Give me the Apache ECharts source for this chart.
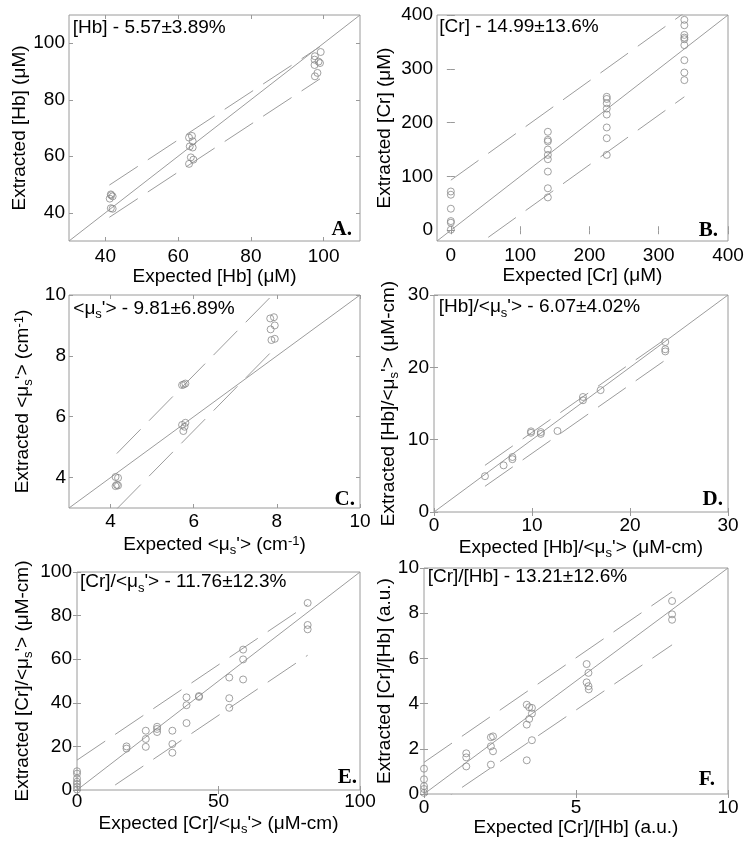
<!DOCTYPE html>
<html><head><meta charset="utf-8">
<script src="https://cdn.jsdelivr.net/npm/echarts@6/dist/echarts.min.js"></script>
<style>html,body{margin:0;padding:0;background:#fff}#c{width:752px;height:849px}</style>
</head><body><div id="c"></div>
<script>
// ---------- Panel A: [Hb] ----------
const hbRange = [30, 110];
const hbTicks = [40, 60, 80, 100];
const hbExpected  = [41.5, 42.0, 41.2, 41.5, 42.0, 41.6, 63.0, 63.8, 64.0, 63.2, 64.0, 63.5, 64.2, 63.0, 97.6, 99.2, 97.5, 98.6, 97.5, 99.0, 98.3, 97.6];
const hbExtracted = [46.5, 45.8, 45.0, 41.6, 41.4, 46.2, 66.6, 67.2, 65.3, 63.5, 63.1, 59.6, 58.8, 57.3, 95.4, 96.9, 94.2, 93.5, 92.3, 93.0, 89.5, 88.3];
const hbBoundX = [41.1, 99.0];
const hbUpper  = [49.8, 98.8];
const hbLower  = [38.4, 87.4];

// ---------- Panel B: [Cr] ----------
const crRange = [-20, 400];
const crTicks = [0, 100, 200, 300, 400];
const crExpected  = [0, 0, 0, 0, 0, 0, 140, 140, 140, 140, 140, 140, 140, 140, 140, 225, 225, 225, 225, 225, 225, 225, 225, 337, 337, 337, 337, 337, 337, 337, 337, 337];
const crExtracted = [72, 66, 40, 17, 14, 1, 183, 168, 165, 150, 140, 132, 109, 78, 61, 248, 244, 236, 226, 215, 191, 171, 140, 391, 381, 363, 358, 355, 344, 316, 293, 279];
const crBoundX = [0, 337];
const crUpper  = [93, 404];
const crLower  = [-63, 248];

// ---------- Panel C: <mu_s'> ----------
const musRange = [3, 10];
const musTicks = [4, 6, 8, 10];
const musExpected  = [4.12, 4.18, 4.15, 4.12, 4.18, 5.72, 5.76, 5.80, 5.72, 5.80, 5.78, 5.75, 7.84, 7.93, 7.95, 7.85, 7.87, 7.95];
const musExtracted = [4.02, 3.99, 3.76, 3.72, 3.74, 7.04, 7.06, 7.09, 5.73, 5.80, 5.67, 5.53, 9.23, 9.27, 9.00, 8.87, 8.52, 8.56];
const musBoundX = [4.15, 7.91];
const musUpper  = [4.79, 10.02];
const musLower  = [2.97, 8.19];

// ---------- Panel D: [Hb]/<mu_s'> ----------
const hbMusRange = [0, 30];
const hbMusTicks = [0, 10, 20, 30];
const hbMusExpected  = [5.2, 7.1, 8.0, 8.0, 9.9, 9.9, 10.9, 10.9, 12.6, 15.2, 15.2, 17.0, 23.6, 23.6, 23.6];
const hbMusExtracted = [4.95, 6.45, 7.6, 7.3, 11.15, 10.95, 11.05, 10.8, 11.2, 15.9, 15.45, 16.85, 23.5, 22.5, 22.2];
const hbMusBoundX = [5.2, 23.6];
const hbMusUpper  = [6.45, 23.9];
const hbMusLower  = [3.55, 21.0];

// ---------- Panel E: [Cr]/<mu_s'> ----------
const crMusRange = [0, 100];
const crMusXTicks = [0, 50, 100];
const crMusYTicks = [0, 20, 40, 60, 80, 100];
const crMusExpected  = [0, 0, 0, 0, 0, 0, 0, 17.5, 17.5, 24.3, 24.3, 24.3, 28.3, 28.3, 28.3, 33.7, 33.7, 33.7, 38.7, 38.7, 38.7, 43.1, 43.1, 53.8, 53.8, 53.8, 58.7, 58.7, 58.7, 81.5, 81.5, 81.5];
const crMusExtracted = [8.6, 7.5, 5.3, 3.8, 2.8, 1.5, 0.2, 20.0, 19.0, 27.2, 23.4, 19.8, 29.0, 28.0, 26.6, 27.2, 21.1, 17.1, 42.5, 38.9, 30.7, 43.1, 42.7, 51.6, 42.1, 37.7, 64.4, 59.9, 50.7, 85.8, 75.7, 73.7];
const crMusBoundX = [0, 81.5];
const crMusUpper  = [13.7, 85.0];
const crMusLower  = [-9.5, 61.8];

// ---------- Panel F: [Cr]/[Hb] ----------
const crHbRange = [0, 10];
const crHbXTicks = [0, 5, 10];
const crHbYTicks = [0, 2, 4, 6, 8, 10];
const crHbExpected  = [0, 0, 0, 0, 0, 1.39, 1.39, 1.39, 2.2, 2.27, 2.2, 2.27, 2.2, 3.38, 3.46, 3.55, 3.46, 3.55, 3.38, 3.55, 3.38, 5.35, 5.41, 5.35, 5.41, 5.42, 8.16, 8.16, 8.16];
const crHbExtracted = [1.12, 0.65, 0.35, 0.22, 0.05, 1.80, 1.62, 1.22, 2.51, 2.55, 2.11, 1.89, 1.30, 3.95, 3.84, 3.81, 3.32, 3.56, 3.07, 2.38, 1.49, 5.75, 5.36, 4.94, 4.77, 4.63, 8.54, 7.95, 7.71];
const crHbBoundX = [0, 8.16];
const crHbUpper  = [1.4, 8.95];
const crHbLower  = [-0.85, 6.6];

// ---------- text ----------
const MU = '\u03bc';
const sub = s => '{sub|' + s + '}';
const sup = s => '{sup|' + s + '}';
const m = s => '{m|' + s + '}';

const panels = [
  { grid:{left:69, top:15, width:291, height:226}, range:hbRange, xt:hbTicks, yt:hbTicks,
    ex:hbExpected, ey:hbExtracted, bx:hbBoundX, bu:hbUpper, bl:hbLower,
    xName: m('Expected [Hb] ('+MU+'M)'), yName: m('Extracted [Hb] ('+MU+'M)'),
    xGap:25, yGap:36, xm:6, ym:4,
    note: m('[Hb] - 5.57\u00b13.89%'), nx:72.7, ny:29.5, letter:'A.', lx:352, ly:230 },
  { grid:{left:437, top:15, width:291, height:226}, range:crRange, xt:crTicks, yt:crTicks,
    ex:crExpected, ey:crExtracted, bx:crBoundX, bu:crUpper, bl:crLower,
    xName: m('Expected [Cr] ('+MU+'M)'), yName: m('Extracted [Cr] ('+MU+'M)'),
    xGap:25, yGap:39.5, xm:5, ym:4,
    note: m('[Cr] - 14.99\u00b113.6%'), nx:439.3, ny:28.5, letter:'B.', lx:718, ly:230.5 },
  { grid:{left:69, top:295, width:291, height:213}, range:musRange, xt:musTicks, yt:musTicks,
    ex:musExpected, ey:musExtracted, bx:musBoundX, bu:musUpper, bl:musLower,
    xName: m('Expected <'+MU)+sub('s')+m("'> (cm")+sup('-1')+m(')'),
    yName: m('Extracted <'+MU)+sub('s')+m("'> (cm")+sup('-1')+m(')'),
    xGap:27, yGap:34, xm:4, ym:3,
    note: m('<'+MU)+sub('s')+m("'> - 9.81\u00b16.89%"), nx:73.3, ny:308, letter:'C.', lx:355, ly:500 },
  { grid:{left:434, top:295, width:294, height:217}, range:hbMusRange, xt:hbMusTicks, yt:hbMusTicks,
    ex:hbMusExpected, ey:hbMusExtracted, bx:hbMusBoundX, bu:hbMusUpper, bl:hbMusLower,
    xName: m('Expected [Hb]/<'+MU)+sub('s')+m("'> ("+MU+'M-cm)'),
    yName: m('Extracted [Hb]/<'+MU)+sub('s')+m("'> ("+MU+'M-cm)'),
    xGap:24, yGap:33, xm:4, ym:5,
    note: m('[Hb]/<'+MU)+sub('s')+m("'> - 6.07\u00b14.02%"), nx:438.7, ny:306.7, letter:'D.', lx:723, ly:500 },
  { grid:{left:77, top:572, width:283, height:218}, range:crMusRange, xt:crMusXTicks, yt:crMusYTicks,
    ex:crMusExpected, ey:crMusExtracted, bx:crMusBoundX, bu:crMusUpper, bl:crMusLower,
    xName: m('Expected [Cr]/<'+MU)+sub('s')+m("'> ("+MU+'M-cm)'),
    yName: m('Extracted [Cr]/<'+MU)+sub('s')+m("'> ("+MU+'M-cm)'),
    xGap:16, yGap:42, xm:2, ym:5,
    note: m('[Cr]/<'+MU)+sub('s')+m("'> - 11.76\u00b112.3%"), nx:80, ny:581.7, letter:'E.', lx:357, ly:778 },
  { grid:{left:424, top:568, width:304, height:226}, range:crHbRange, xt:crHbXTicks, yt:crHbYTicks,
    ex:crHbExpected, ey:crHbExtracted, bx:crHbBoundX, bu:crHbUpper, bl:crHbLower,
    xName: m('Expected [Cr]/[Hb] (a.u.)'), yName: m('Extracted [Cr]/[Hb] (a.u.)'),
    xGap:20, yGap:26, xm:4, ym:5,
    note: m('[Cr]/[Hb] - 13.21\u00b112.6%'), nx:427.7, ny:578.3, letter:'F.', lx:715, ly:780 }
];

const FONT = 'Liberation Sans, Arial, Helvetica, sans-serif';
const BOX = '#9a9a9a';
const LINE = '#9c9c9c';
const MARK = '#8a8a8a';
const rich = {
  m:   {fontFamily:FONT, fontSize:19, lineHeight:22, verticalAlign:'top', color:'#000'},
  sub: {fontFamily:FONT, fontSize:13, lineHeight:13, padding:[11,0,0,0], verticalAlign:'bottom', color:'#000'},
  sup: {fontFamily:FONT, fontSize:13, lineHeight:13, verticalAlign:'top', color:'#000'}
};

const grid = [], xAxis = [], yAxis = [], series = [], graphic = [];
panels.forEach((p, i) => {
  grid.push(Object.assign({show:true, borderColor:BOX, borderWidth:1, backgroundColor:'transparent', outerBoundsMode:'none', containLabel:false}, p.grid));
  const tick = vals => ({show:true, inside:true, length:4, customValues:vals, lineStyle:{color:BOX, width:1}});
  xAxis.push({
    type:'value', gridIndex:i, position:'bottom', min:p.range[0], max:p.range[1],
    splitLine:{show:false}, axisLine:{show:false},
    axisTick: tick(p.xt),
    axisLabel:{show:true, customValues:p.xt, margin:p.xm, fontFamily:FONT, fontSize:19, color:'#000', showMinLabel:true, showMaxLabel:true},
    name:p.xName, nameLocation:'middle', nameGap:p.xGap, nameTextStyle:{rich:rich, fontFamily:FONT, fontSize:19, color:'#000'}
  });
  xAxis.push({
    type:'value', gridIndex:i, position:'top', min:p.range[0], max:p.range[1],
    splitLine:{show:false}, axisLine:{show:false}, axisTick: tick(p.xt), axisLabel:{show:false}
  });
  yAxis.push({
    type:'value', gridIndex:i, position:'left', min:p.range[0], max:p.range[1],
    splitLine:{show:false}, axisLine:{show:false},
    axisTick: tick(p.yt),
    axisLabel:{show:true, customValues:p.yt, margin:p.ym, fontFamily:FONT, fontSize:19, color:'#000', showMinLabel:true, showMaxLabel:true},
    name:p.yName, nameLocation:'middle', nameGap:p.yGap, nameTextStyle:{rich:rich, fontFamily:FONT, fontSize:19, color:'#000'}
  });
  yAxis.push({
    type:'value', gridIndex:i, position:'right', min:p.range[0], max:p.range[1],
    splitLine:{show:false}, axisLine:{show:false}, axisTick: tick(p.yt), axisLabel:{show:false}
  });
  const xi = 2*i, yi = 2*i;
  // identity line
  series.push({type:'line', xAxisIndex:xi, yAxisIndex:yi, data:[[p.range[0],p.range[0]],[p.range[1],p.range[1]]],
    showSymbol:false, symbol:'none', clip:true, silent:true, lineStyle:{color:LINE, width:1}, z:2});
  // bounds
  series.push({type:'line', xAxisIndex:xi, yAxisIndex:yi, data:p.bx.map((x,k)=>[x,p.bu[k]]),
    showSymbol:false, symbol:'none', clip:true, silent:true, lineStyle:{color:LINE, width:1, type:[34,12]}, z:2});
  series.push({type:'line', xAxisIndex:xi, yAxisIndex:yi, data:p.bx.map((x,k)=>[x,p.bl[k]]),
    showSymbol:false, symbol:'none', clip:true, silent:true, lineStyle:{color:LINE, width:1, type:[34,12]}, z:2});
  // points
  series.push({type:'scatter', xAxisIndex:xi, yAxisIndex:yi, data:p.ex.map((x,k)=>[x,p.ey[k]]),
    symbol:'circle', symbolSize:7, silent:true,
    itemStyle:{color:'rgba(0,0,0,0)', borderColor:MARK, borderWidth:1}, z:3});
  graphic.push({type:'text', left:p.nx, top:p.ny - 11, z:10, silent:true,
    style:{text:p.note, rich:rich, fontFamily:FONT, fontSize:19, fill:'#000'}});
  graphic.push({type:'text', x:p.lx, y:p.ly, z:10, silent:true,
    style:{text:p.letter, fontFamily:'Liberation Serif, Times New Roman, serif', fontWeight:'bold', fontSize:21, fill:'#000', align:'right', verticalAlign:'middle'}});
});

const chart = echarts.init(document.getElementById('c'), null, {renderer:'canvas'});
chart.setOption({animation:false, backgroundColor:'#fff', grid, xAxis, yAxis, series, graphic});
</script>
</body></html>
